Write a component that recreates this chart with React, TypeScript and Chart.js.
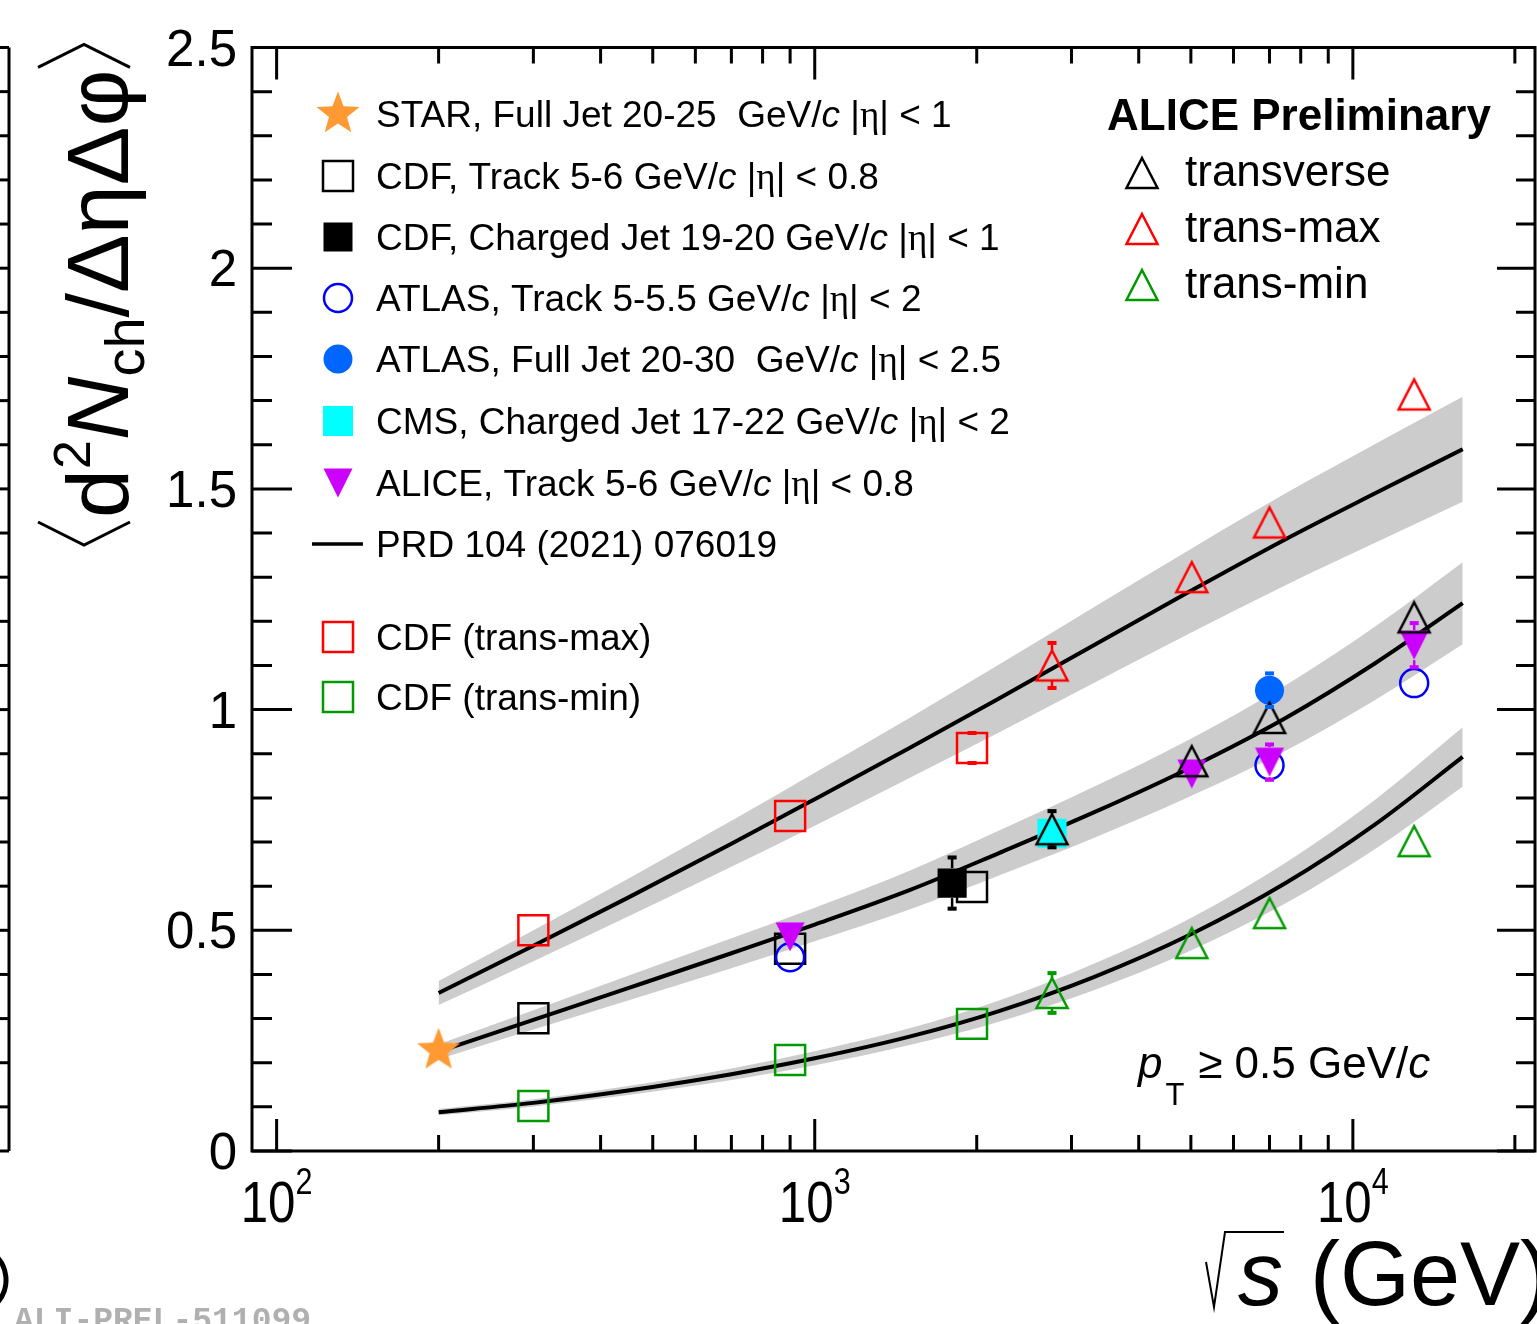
import React, { useEffect, useRef } from 'react';
import { Chart, registerables } from 'chart.js';

Chart.register(...registerables);

// ---------------- data ----------------
// theory curves (PRD 104 (2021) 076019)
const theoryEnergy = [200, 300, 450, 700, 1000, 1500, 2200, 3300, 5000, 7500, 11000, 16000];
const theoryTransMax = [0.358, 0.465, 0.574, 0.696, 0.797, 0.913, 1.025, 1.146, 1.269, 1.386, 1.490, 1.590];
const theoryTransverse = [0.225, 0.297, 0.369, 0.448, 0.513, 0.591, 0.675, 0.767, 0.869, 0.981, 1.105, 1.241];
const theoryTransMin = [0.088, 0.109, 0.137, 0.174, 0.210, 0.259, 0.317, 0.394, 0.491, 0.607, 0.740, 0.893];
const bandTransMax = [0.027, 0.035, 0.043, 0.052, 0.060, 0.068, 0.077, 0.086, 0.095, 0.104, 0.112, 0.119];
const bandTransverse = [0.017, 0.022, 0.028, 0.034, 0.038, 0.044, 0.051, 0.058, 0.065, 0.074, 0.083, 0.093];
const bandTransMin = [0.007, 0.008, 0.010, 0.013, 0.016, 0.019, 0.024, 0.030, 0.037, 0.046, 0.056, 0.067];

// STAR
const starEnergy = [200];
const starY = [0.228];
// CDF track (transverse, trans-max, trans-min)
const cdfEnergy = [300, 900, 1960];
const cdfTransverseY = [0.301, 0.458, 0.598];
const cdfTransMaxY = [0.500, 0.759, 0.913];
const cdfTransMaxErr = [0, 0, 0.034];
const cdfTransMinY = [0.102, 0.206, 0.288];
// CDF charged jet
const cdfJetEnergy = [1800];
const cdfJetY = [0.607];
const cdfJetErr = [0.058];
// ATLAS track
const atlasTrackEnergy = [900, 7000, 13000];
const atlasTrackY = [0.439, 0.874, 1.060];
// ATLAS full jet
const atlasJetEnergy = [7000];
const atlasJetY = [1.044];
const atlasJetErr = [0.038];
// CMS charged jet
const cmsEnergy = [2760];
const cmsY = [0.720];
// ALICE track 5-6 GeV/c
const aliceTrackEnergy = [900, 5020, 7000, 13000];
const aliceTrackY = [0.485, 0.854, 0.881, 1.146];
const aliceTrackErr = [0, 0, 0.040, 0.050];
// ALICE Preliminary
const aliceEnergy = [2760, 5020, 7000, 13000];
const aliceTransverseY = [0.729, 0.883, 0.981, 1.209];
const aliceTransverseErr = [0.041, 0, 0, 0];
const aliceTransMaxY = [1.100, 1.300, 1.424, 1.714];
const aliceTransMaxErr = [0.051, 0, 0, 0];
const aliceTransMinY = [0.358, 0.471, 0.539, 0.702];
const aliceTransMinErr = [0.045, 0, 0, 0];

// axes
const xMin = 90;
const xMax = 21800;
const yMin = 0;
const yMax = 2.5;
const yTickValues = [0, 0.5, 1, 1.5, 2, 2.5];
const yTickLabels = ['0', '0.5', '1', '1.5', '2', '2.5'];
const xTickValues = [100, 1000, 10000];
const xTickExponents = ['2', '3', '4'];

// ---------------- style ----------------
const W = 1537;
const H = 1324;
const SANS = "'Liberation Sans', Arial, Helvetica, sans-serif";
const SERIF = "'Liberation Serif', 'Times New Roman', serif";
const MONO = "'Liberation Mono', 'Courier New', monospace";
const BLACK = '#000000';
const RED = '#ff0000';
const GREEN = '#009a00';
const BLUE = '#0000ff';
const ATLAS_FILL = '#0066ff';
const MAGENTA = '#cc00ff';
const CYAN = '#00ffff';
const ORANGE = '#ff9933';
const BAND = '#cccccc';

function makeCanvas(w: number, h: number, draw: (c: CanvasRenderingContext2D) => void) {
  const c = document.createElement('canvas');
  c.width = w;
  c.height = h;
  const ctx = c.getContext('2d')!;
  draw(ctx);
  return c;
}

function triMarker(color: string, filled: boolean, down: boolean, w: number, h: number, lw = 2.5) {
  const S = 2 * Math.ceil((Math.max(w, h) + lw * 2 + 4) / 2);
  return makeCanvas(S, S, (ctx) => {
    const cx = S / 2, cy = S / 2;
    ctx.beginPath();
    if (!down) {
      ctx.moveTo(cx, cy - h / 2);
      ctx.lineTo(cx + w / 2, cy + h / 2);
      ctx.lineTo(cx - w / 2, cy + h / 2);
    } else {
      ctx.moveTo(cx, cy + h / 2);
      ctx.lineTo(cx + w / 2, cy - h / 2);
      ctx.lineTo(cx - w / 2, cy - h / 2);
    }
    ctx.closePath();
    if (filled) {
      ctx.fillStyle = color;
      ctx.fill();
    } else {
      ctx.strokeStyle = color;
      ctx.lineWidth = lw;
      ctx.stroke();
    }
  });
}

function starMarker(color: string, R: number) {
  const S = 2 * Math.ceil(R) + 4;
  return makeCanvas(S, S, (ctx) => {
    const cx = S / 2, cy = S / 2;
    const r = R * 0.42;
    ctx.beginPath();
    for (let i = 0; i < 10; i++) {
      const a = -Math.PI / 2 + (i * Math.PI) / 5;
      const rr = i % 2 === 0 ? R : r;
      const px = cx + rr * Math.cos(a);
      const py = cy + rr * Math.sin(a);
      if (i === 0) ctx.moveTo(px, py);
      else ctx.lineTo(px, py);
    }
    ctx.closePath();
    ctx.fillStyle = color;
    ctx.fill();
  });
}

type Seg = { t: string; i?: boolean; b?: boolean; g?: boolean; s?: number; dy?: number };
function drawRich(ctx: CanvasRenderingContext2D, x: number, y: number, segs: Seg[], size: number) {
  let cx = x;
  for (const sg of segs) {
    const sz = sg.s ?? size;
    const fam = sg.g ? SERIF : SANS;
    ctx.font = `${sg.i ? 'italic ' : ''}${sg.b ? 'bold ' : ''}${sz}px ${fam}`;
    ctx.fillText(sg.t, cx, y + (sg.dy ?? 0));
    cx += ctx.measureText(sg.t).width;
  }
  return cx;
}

const pts = (xs: number[], ys: number[]) => xs.map((x, i) => ({ x, y: ys[i] }));

export default function App() {
  const ref = useRef<HTMLCanvasElement>(null);

  useEffect(() => {
    const canvas = ref.current!;
    const triBlack = triMarker(BLACK, false, false, 31, 30);
    const triRed = triMarker(RED, false, false, 31, 30);
    const triGreen = triMarker(GREEN, false, false, 31, 30);
    const triMagenta = triMarker(MAGENTA, true, true, 29, 29);
    const star = starMarker(ORANGE, 22.6);

    const lineDs = (label: string, ys: number[]) => ({
      label,
      data: pts(theoryEnergy, ys),
      showLine: true,
      borderColor: BLACK,
      borderWidth: 4,
      pointRadius: 0,
      cubicInterpolationMode: 'monotone',
      fill: false,
      order: 20,
    });
    const bandDs = (label: string, ys: number[], hw: number[], sign: number, fill: any) => ({
      label,
      data: theoryEnergy.map((x, i) => ({ x, y: ys[i] + sign * hw[i] })),
      showLine: true,
      borderColor: 'rgba(0,0,0,0)',
      borderWidth: 0,
      pointRadius: 0,
      cubicInterpolationMode: 'monotone',
      backgroundColor: BAND,
      fill,
      order: 30,
    });
    const openRect = (c: string) => ({ pointStyle: 'rect', pointRadius: 21.2, pointBorderWidth: 2.5, pointBorderColor: c, pointBackgroundColor: 'rgba(0,0,0,0)' });
    const fillRect = (c: string) => ({ pointStyle: 'rect', pointRadius: 20.6, pointBorderWidth: 0, pointBorderColor: c, pointBackgroundColor: c });
    const img = (c: HTMLCanvasElement) => ({ pointStyle: c, pointRadius: 15, pointBorderWidth: 0 });
    const mk = (label: string, xs: number[], ys: number[], style: any, order: number) => ({
      label, data: pts(xs, ys), showLine: false, order, ...style,
    });

    const datasets: any[] = [
      bandDs('bandMaxHi', theoryTransMax, bandTransMax, 1, false),
      bandDs('bandMaxLo', theoryTransMax, bandTransMax, -1, '-1'),
      bandDs('bandTrHi', theoryTransverse, bandTransverse, 1, false),
      bandDs('bandTrLo', theoryTransverse, bandTransverse, -1, '-1'),
      bandDs('bandMinHi', theoryTransMin, bandTransMin, 1, false),
      bandDs('bandMinLo', theoryTransMin, bandTransMin, -1, '-1'),
      lineDs('PRD max', theoryTransMax),
      lineDs('PRD transverse', theoryTransverse),
      lineDs('PRD min', theoryTransMin),
      mk('STAR', starEnergy, starY, img(star), 8),
      mk('CDF track', cdfEnergy, cdfTransverseY, openRect(BLACK), 8),
      mk('CDF trans-max', cdfEnergy, cdfTransMaxY, openRect(RED), 8),
      mk('CDF trans-min', cdfEnergy, cdfTransMinY, openRect(GREEN), 8),
      mk('CDF jet', cdfJetEnergy, cdfJetY, fillRect(BLACK), 6),
      mk('CMS', cmsEnergy, cmsY, fillRect(CYAN), 7),
      mk('ATLAS track', atlasTrackEnergy, atlasTrackY, { pointStyle: 'circle', pointRadius: 14, pointBorderWidth: 2.5, pointBorderColor: BLUE, pointBackgroundColor: 'rgba(0,0,0,0)' }, 5),
      mk('ATLAS jet', atlasJetEnergy, atlasJetY, { pointStyle: 'circle', pointRadius: 14.5, pointBorderWidth: 0, pointBorderColor: ATLAS_FILL, pointBackgroundColor: ATLAS_FILL }, 4),
      mk('ALICE track', aliceTrackEnergy, aliceTrackY, img(triMagenta), 3),
      mk('ALICE transverse', aliceEnergy, aliceTransverseY, img(triBlack), 1),
      mk('ALICE trans-max', aliceEnergy, aliceTransMaxY, img(triRed), 1),
      mk('ALICE trans-min', aliceEnergy, aliceTransMinY, img(triGreen), 1),
    ];

    const errorSeries = [
      { xs: cdfEnergy, ys: cdfTransMaxY, es: cdfTransMaxErr, color: RED },
      { xs: cdfJetEnergy, ys: cdfJetY, es: cdfJetErr, color: BLACK },
      { xs: atlasJetEnergy, ys: atlasJetY, es: atlasJetErr, color: ATLAS_FILL },
      { xs: aliceTrackEnergy, ys: aliceTrackY, es: aliceTrackErr, color: MAGENTA },
      { xs: aliceEnergy, ys: aliceTransverseY, es: aliceTransverseErr, color: BLACK },
      { xs: aliceEnergy, ys: aliceTransMaxY, es: aliceTransMaxErr, color: RED },
      { xs: aliceEnergy, ys: aliceTransMinY, es: aliceTransMinErr, color: GREEN },
    ];

    const errorPlugin = {
      id: 'errbars',
      afterDatasetsDraw(chart: any) {
        const { ctx, scales } = chart;
        const sx = scales.x, sy = scales.y;
        ctx.save();
        for (const s of errorSeries) {
          ctx.strokeStyle = s.color;
          ctx.fillStyle = s.color;
          ctx.lineWidth = 2.5;
          s.xs.forEach((xv: number, i: number) => {
            const e = s.es[i];
            if (!e) return;
            const px = sx.getPixelForValue(xv);
            const py = sy.getPixelForValue(s.ys[i]);
            const top = sy.getPixelForValue(s.ys[i] + e);
            const bot = sy.getPixelForValue(s.ys[i] - e);
            const half = 15;
            if (py - top > half) {
              ctx.beginPath(); ctx.moveTo(px, py - half); ctx.lineTo(px, top); ctx.stroke();
            }
            if (bot - py > half) {
              ctx.beginPath(); ctx.moveTo(px, py + half); ctx.lineTo(px, bot); ctx.stroke();
            }
            ctx.fillRect(px - 4.5, top - 2, 9, 4);
            ctx.fillRect(px - 4.5, bot - 2, 9, 4);
          });
        }
        ctx.restore();
      },
    };

    const decorPlugin = {
      id: 'decor',
      afterDraw(chart: any) {
        const { ctx, chartArea: a, scales } = chart;
        const sx = scales.x, sy = scales.y;
        ctx.save();
        ctx.strokeStyle = BLACK;
        ctx.fillStyle = BLACK;
        ctx.lineCap = 'butt';

        // frame
        ctx.lineWidth = 3;
        ctx.strokeRect(a.left, a.top, a.right - a.left, a.bottom - a.top);

        // y ticks
        for (let i = 0; i <= 25; i++) {
          const v = i / 10;
          const py = sy.getPixelForValue(v);
          const major = i % 5 === 0;
          ctx.beginPath();
          ctx.moveTo(a.left, py); ctx.lineTo(a.left + (major ? 40 : 20), py);
          ctx.moveTo(a.right, py); ctx.lineTo(a.right - (major ? 38 : 19), py);
          ctx.stroke();
        }
        // x ticks
        const xt: { v: number; major: boolean }[] = [];
        for (const d of [10, 100, 1000, 10000]) {
          for (let k = 1; k <= 9; k++) {
            const v = k * d;
            if (v > xMin && v < xMax) xt.push({ v, major: k === 1 });
          }
        }
        for (const t of xt) {
          const px = sx.getPixelForValue(t.v);
          ctx.beginPath();
          ctx.moveTo(px, a.bottom); ctx.lineTo(px, a.bottom - (t.major ? 32 : 16));
          ctx.moveTo(px, a.top); ctx.lineTo(px, a.top + (t.major ? 32 : 16));
          ctx.stroke();
        }

        // y tick labels
        ctx.font = `51px ${SANS}`;
        ctx.textAlign = 'right';
        ctx.textBaseline = 'alphabetic';
        yTickValues.forEach((v, i) => {
          const py = sy.getPixelForValue(v);
          ctx.fillText(yTickLabels[i], 237, py + 18);
        });

        // x tick labels 10^n (narrow)
        ctx.textAlign = 'left';
        const nx = 0.85;
        xTickValues.forEach((v, i) => {
          const px = sx.getPixelForValue(v);
          ctx.font = `58px ${SANS}`;
          const w1 = ctx.measureText('10').width;
          ctx.font = `36px ${SANS}`;
          const w2 = ctx.measureText(xTickExponents[i]).width;
          const total = (w1 + w2) * nx;
          ctx.save();
          ctx.translate(px - total / 2, 1222);
          ctx.scale(nx, 1);
          ctx.font = `58px ${SANS}`;
          ctx.fillText('10', 0, 0);
          ctx.font = `36px ${SANS}`;
          ctx.fillText(xTickExponents[i], w1, -28);
          ctx.restore();
        });

        // x title: sqrt(s) (GeV)
        ctx.lineWidth = 2;
        ctx.beginPath();
        ctx.moveTo(1206, 1262);
        ctx.lineTo(1214, 1307);
        ctx.lineTo(1225, 1232);
        ctx.lineTo(1284, 1232);
        ctx.stroke();
        drawRich(ctx, 1238, 1305, [{ t: 's', i: true }], 90);
        drawRich(ctx, 1310, 1305, [{ t: '(GeV)' }], 90);

        // y title (rotated)
        ctx.save();
        ctx.translate(128, 546);
        ctx.rotate(-Math.PI / 2);
        ctx.lineWidth = 3;
        ctx.beginPath();
        ctx.moveTo(24, 2); ctx.lineTo(1, -44); ctx.lineTo(24, -90);
        ctx.stroke();
        const end = drawRich(ctx, 28, 0, [
          { t: 'd' },
          { t: '2', s: 52, dy: -38 },
          { t: 'N', i: true },
          { t: 'ch', s: 56, dy: 16 },
          { t: '/' },
          { t: 'ΔηΔφ' },
        ], 88);
        ctx.beginPath();
        ctx.moveTo(end + 2, 2); ctx.lineTo(end + 25, -44); ctx.lineTo(end + 2, -90);
        ctx.stroke();
        ctx.restore();

        // left legend
        const lx = 338, tx = 376, fs = 37;
        const eta = (rest: string): Seg[] => [{ t: 'GeV/' }, { t: 'c', i: true }, { t: ' |' }, { t: 'η', g: true }, { t: '| < ' + rest }];
        const rows: { y: number; segs: Seg[] }[] = [
          { y: 114, segs: [{ t: 'STAR, Full Jet 20-25  ' }, ...eta('1')] },
          { y: 176, segs: [{ t: 'CDF, Track 5-6 ' }, ...eta('0.8')] },
          { y: 237, segs: [{ t: 'CDF, Charged Jet 19-20 ' }, ...eta('1')] },
          { y: 298, segs: [{ t: 'ATLAS, Track 5-5.5 ' }, ...eta('2')] },
          { y: 359, segs: [{ t: 'ATLAS, Full Jet 20-30  ' }, ...eta('2.5')] },
          { y: 421, segs: [{ t: 'CMS, Charged Jet 17-22 ' }, ...eta('2')] },
          { y: 483, segs: [{ t: 'ALICE, Track 5-6 ' }, ...eta('0.8')] },
          { y: 544, segs: [{ t: 'PRD 104 (2021) 076019' }] },
          { y: 637, segs: [{ t: 'CDF (trans-max)' }] },
          { y: 697, segs: [{ t: 'CDF (trans-min)' }] },
        ];
        rows.forEach((r) => drawRich(ctx, tx, r.y + 13, r.segs, fs));

        const drawImg = (c: HTMLCanvasElement, x: number, y: number) => ctx.drawImage(c, Math.round(x - c.width / 2), Math.round(y - c.height / 2));
        drawImg(star, lx, 114);
        ctx.lineWidth = 2.5;
        ctx.strokeStyle = BLACK;
        ctx.strokeRect(lx - 15, 176 - 15, 30, 30);
        ctx.fillStyle = BLACK;
        ctx.fillRect(lx - 14.5, 237 - 14.5, 29, 29);
        ctx.strokeStyle = BLUE;
        ctx.beginPath(); ctx.arc(lx, 298, 14, 0, Math.PI * 2); ctx.stroke();
        ctx.fillStyle = ATLAS_FILL;
        ctx.beginPath(); ctx.arc(lx, 359, 14.5, 0, Math.PI * 2); ctx.fill();
        ctx.fillStyle = CYAN;
        ctx.fillRect(lx - 15, 421 - 15, 30, 30);
        drawImg(triMagenta, lx, 483);
        ctx.strokeStyle = BLACK;
        ctx.lineWidth = 3.5;
        ctx.beginPath(); ctx.moveTo(312, 544); ctx.lineTo(363, 544); ctx.stroke();
        ctx.lineWidth = 2.5;
        ctx.strokeStyle = RED;
        ctx.strokeRect(lx - 15, 637 - 15, 30, 30);
        ctx.strokeStyle = GREEN;
        ctx.strokeRect(lx - 15, 697 - 15, 30, 30);

        // right legend
        ctx.fillStyle = BLACK;
        drawRich(ctx, 1107, 130, [{ t: 'ALICE Preliminary', b: true }], 44);
        drawImg(triBlack, 1142, 173);
        drawImg(triRed, 1142, 229);
        drawImg(triGreen, 1142, 285);
        ctx.fillStyle = BLACK;
        drawRich(ctx, 1185, 186, [{ t: 'transverse' }], 44);
        drawRich(ctx, 1185, 242, [{ t: 'trans-max' }], 44);
        drawRich(ctx, 1185, 298, [{ t: 'trans-min' }], 44);

        // pT cut
        const pEnd = drawRich(ctx, 1138, 1078, [{ t: 'p', i: true }], 44);
        drawRich(ctx, pEnd + 3, 1105, [{ t: 'T' }], 31);
        drawRich(ctx, 1186, 1078, [{ t: ' ≥ 0.5 GeV/' }, { t: 'c', i: true }], 44);

        // neighbouring panel remnant (left edge)
        ctx.strokeStyle = BLACK;
        ctx.lineWidth = 3;
        ctx.beginPath(); ctx.moveTo(9, a.top); ctx.lineTo(9, a.bottom); ctx.stroke();
        for (let i = 0; i <= 25; i++) {
          const py = sy.getPixelForValue(i / 10);
          ctx.beginPath(); ctx.moveTo(0, py); ctx.lineTo(9, py); ctx.stroke();
        }
        ctx.lineWidth = 5;
        ctx.beginPath(); ctx.arc(-28, 1280, 34, -0.9, 0.9); ctx.stroke();

        // watermark
        ctx.fillStyle = '#b0b0b0';
        ctx.font = `bold 33px ${MONO}`;
        ctx.textAlign = 'left';
        ctx.fillText('ALI-PREL-511099', 14, 1330);

        ctx.restore();
      },
    };

    const chart = new Chart(canvas, {
      type: 'scatter',
      data: { datasets },
      options: {
        responsive: false,
        animation: false,
        devicePixelRatio: 1,
        events: [],
        layout: { autoPadding: false, padding: { left: 252, top: 47.5, right: 2, bottom: 173 } },
        scales: {
          x: { type: 'logarithmic', min: xMin, max: xMax, display: false },
          y: { type: 'linear', min: yMin, max: yMax, display: false },
        },
        plugins: { legend: { display: false }, tooltip: { enabled: false } },
      },
      plugins: [errorPlugin, decorPlugin],
    } as any);
    return () => chart.destroy();
  }, []);

  return (
    <div style={{ position: 'absolute', left: 0, top: 0, width: W, height: H, background: '#fff' }}>
      <canvas ref={ref} width={W} height={H} style={{ display: 'block', width: W, height: H }} />
    </div>
  );
}
